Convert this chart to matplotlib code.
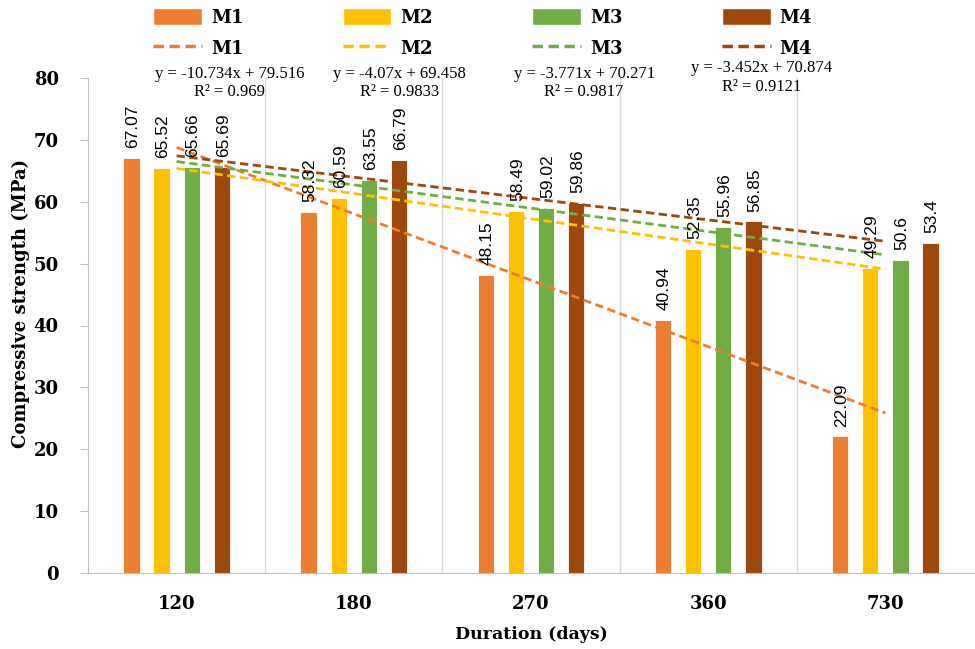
import numpy as np
import matplotlib
matplotlib.use("Agg")
import matplotlib.pyplot as plt
from matplotlib.patches import Patch
from matplotlib.lines import Line2D

categories = ["120", "180", "270", "360", "730"]
series_names = ["M1", "M2", "M3", "M4"]
m1 = [67.07, 58.32, 48.15, 40.94, 22.09]
m2 = [65.52, 60.59, 58.49, 52.35, 49.29]
m3 = [65.66, 63.55, 59.02, 55.96, 50.6]
m4 = [65.69, 66.79, 59.86, 56.85, 53.4]
values = [m1, m2, m3, m4]
colors = ["#ED7D31", "#FFC000", "#70AD47", "#9E480E"]

serif = ["Liberation Serif", "DejaVu Serif"]
bserif = ["DejaVu Serif"]
sans = ["Liberation Sans", "DejaVu Sans"]

fig = plt.figure(figsize=(9.75, 6.49), dpi=100)
ax = fig.add_axes([88/975, 1-573/649, 886/975, (573-78)/649])

x = np.arange(len(categories))
offsets = [-0.255, -0.085, 0.085, 0.255]
bw = 0.092
for vals, col, off in zip(values, colors, offsets):
    ax.bar(x + off, vals, width=bw, color=col, edgecolor="white", linewidth=0.6, zorder=2)
    for xi, v in zip(x, vals):
        ax.annotate(f"{v:g}", (xi + off, v), xytext=(1, 7), textcoords="offset points",
                    rotation=90, ha="center", va="bottom", fontsize=12.5,
                    family=sans, color="black", zorder=5)

# trendlines (linear fit on x = 1..5)
eq_pos = [(0.30, 80.6, 77.7), (1.26, 80.6, 77.7), (2.30, 80.6, 77.7), (3.30, 81.6, 78.5)]
xf = np.arange(1, len(categories) + 1)
for vals, col, name, (ex, ey1, ey2) in zip(values, colors, series_names, eq_pos):
    a, b = np.polyfit(xf, vals, 1)
    pred = a * xf + b
    ss_res = np.sum((np.array(vals) - pred) ** 2)
    ss_tot = np.sum((np.array(vals) - np.mean(vals)) ** 2)
    r2 = 1 - ss_res / ss_tot
    ax.plot(x, pred, linestyle=(0, (3, 1.6)), color=col, linewidth=2.0, zorder=4)
    ax.text(ex, ey1, f"y = {a:.5g}x + {b:.5g}", ha="center", va="center",
            fontsize=12, family=serif, clip_on=False)
    ax.text(ex, ey2, f"R² = {r2:.4g}", ha="center", va="center",
            fontsize=12, family=serif, clip_on=False)

ax.set_xlim(-0.5, len(categories) - 0.5)
ax.set_ylim(0, 80)
ax.set_yticks(np.arange(0, 81, 10))
ax.set_xticks(x)
ax.set_xticklabels(categories, fontsize=13, fontweight="bold", family=bserif)
for lbl in ax.get_yticklabels():
    lbl.set_fontsize(13)
    lbl.set_fontweight("bold")
    lbl.set_family(bserif)
ax.tick_params(axis="x", length=0, pad=16)
ax.tick_params(axis="y", length=6, color="#BFBFBF", pad=15)

for xv in np.arange(0.5, len(categories) - 0.5, 1):
    ax.axvline(xv, color="#D9D9D9", linewidth=1, zorder=0)

for s in ["top", "right"]:
    ax.spines[s].set_visible(False)
ax.spines["left"].set_color("#BFBFBF")
ax.spines["bottom"].set_color("#BFBFBF")

ax.set_ylabel("Compressive strength (MPa)", fontsize=13, fontweight="bold", family=bserif)
ax.yaxis.set_label_coords(-0.065, 0.545)
ax.set_xlabel("Duration (days)", fontsize=12.5, fontweight="bold", family=bserif, labelpad=9)

handles = []
for col, name in zip(colors, series_names):
    handles.append(Patch(facecolor=col, edgecolor="white", label=name))
    handles.append(Line2D([0], [0], color=col, linestyle=(0, (3, 1.6)), linewidth=2.5, label=name))
fig.legend(handles=handles, ncol=4, loc="upper center", bbox_to_anchor=(0.495, 1.012),
           frameon=False, prop={"family": bserif, "weight": "bold", "size": 13},
           handlelength=2.7, handleheight=1.0, columnspacing=5.5, handletextpad=0.5,
           labelspacing=0.7)

fig.savefig("out.png", dpi=100)
